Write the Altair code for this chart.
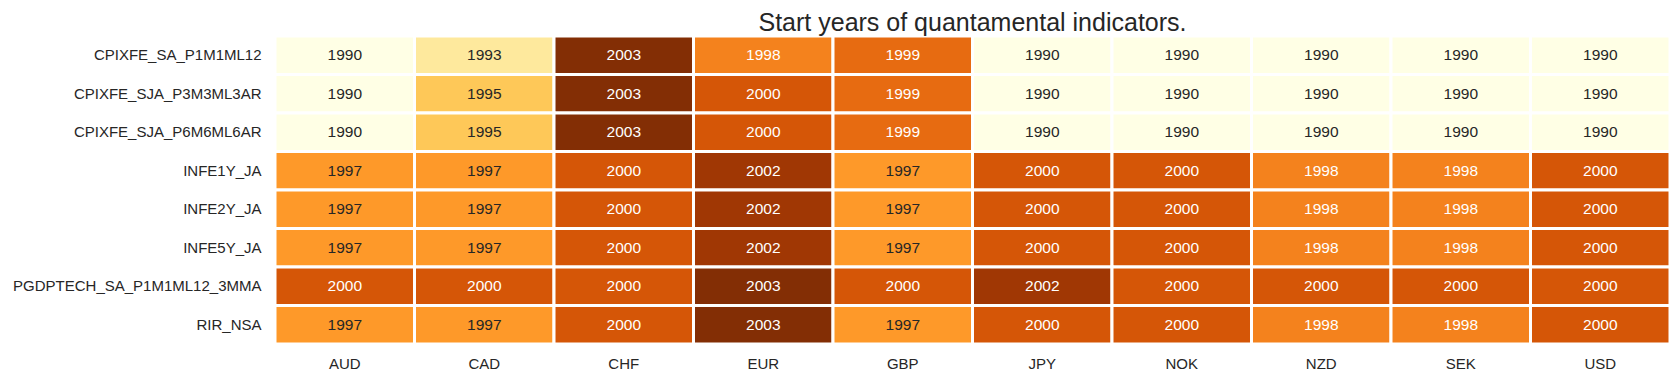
import altair as alt
import pandas as pd

indicators = [
    "CPIXFE_SA_P1M1ML12",
    "CPIXFE_SJA_P3M3ML3AR",
    "CPIXFE_SJA_P6M6ML6AR",
    "INFE1Y_JA",
    "INFE2Y_JA",
    "INFE5Y_JA",
    "PGDPTECH_SA_P1M1ML12_3MMA",
    "RIR_NSA",
]
currencies = ["AUD", "CAD", "CHF", "EUR", "GBP", "JPY", "NOK", "NZD", "SEK", "USD"]

start_years = [
    [1990, 1993, 2003, 1998, 1999, 1990, 1990, 1990, 1990, 1990],
    [1990, 1995, 2003, 2000, 1999, 1990, 1990, 1990, 1990, 1990],
    [1990, 1995, 2003, 2000, 1999, 1990, 1990, 1990, 1990, 1990],
    [1997, 1997, 2000, 2002, 1997, 2000, 2000, 1998, 1998, 2000],
    [1997, 1997, 2000, 2002, 1997, 2000, 2000, 1998, 1998, 2000],
    [1997, 1997, 2000, 2002, 1997, 2000, 2000, 1998, 1998, 2000],
    [2000, 2000, 2000, 2003, 2000, 2002, 2000, 2000, 2000, 2000],
    [1997, 1997, 2000, 2003, 1997, 2000, 2000, 1998, 1998, 2000],
]

ylorbr = ["#ffffe5", "#fff7bc", "#fee391", "#fec44f", "#fe9929",
          "#ec7014", "#cc4c02", "#993404", "#662506"]
vmin, vmax = 1990, 2004
stops = [vmin + (vmax - vmin) * i / 8 for i in range(9)]

rows = []
for i, ind in enumerate(indicators):
    for j, cur in enumerate(currencies):
        rows.append({"indicator": ind, "currency": cur, "year": start_years[i][j]})
df = pd.DataFrame(rows)

FONT = "Liberation Sans"
TXT = "#262626"

base = alt.Chart(df).encode(
    x=alt.X("currency:N", sort=currencies, title=None,
            scale=alt.Scale(paddingInner=0, paddingOuter=0),
            axis=alt.Axis(orient="bottom", labelAngle=0, ticks=False, domain=False,
                          labelFontSize=15, labelColor=TXT, labelFont=FONT,
                          labelPadding=12, labelLimit=0)),
    y=alt.Y("indicator:N", sort=indicators, title=None,
            scale=alt.Scale(paddingInner=0, paddingOuter=0),
            axis=alt.Axis(ticks=False, domain=False, labelFontSize=15,
                          labelColor=TXT, labelFont=FONT, labelPadding=14,
                          labelLimit=0)),
)

rects = base.mark_rect(stroke="white", strokeWidth=3).encode(
    color=alt.Color("year:Q", legend=None,
                    scale=alt.Scale(domain=stops, range=ylorbr, interpolate="rgb"))
)

texts = base.mark_text(fontSize=15.5, font=FONT).encode(
    text=alt.Text("year:Q", format="d"),
    color=alt.condition(alt.datum.year >= 1998, alt.value("white"), alt.value(TXT)),
)

chart = (rects + texts).properties(
    width=1395,
    height=308,
    title=alt.TitleParams("Start years of quantamental indicators.", fontSize=25,
                          font=FONT, fontWeight="normal", color=TXT,
                          anchor="middle", offset=1, dy=2),
    autosize="none",
    padding={"left": 267, "top": 28, "right": 1, "bottom": 29},
).configure_view(stroke=None).configure(background="white")

chart.save("out.html", embed_options={"renderer": "svg", "actions": False})
